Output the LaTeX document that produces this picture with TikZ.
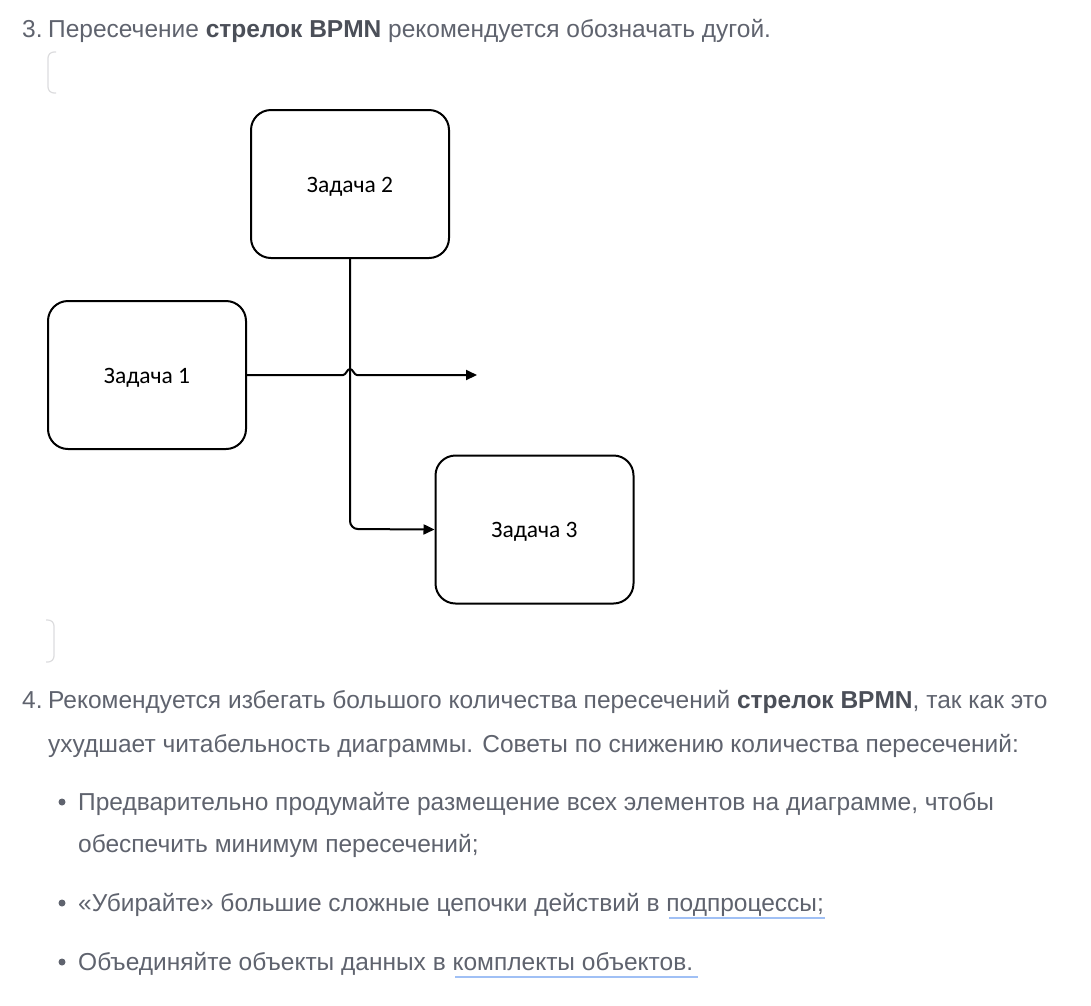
\documentclass[tikz,border=0pt]{standalone}
\usepackage{fontspec}
\setmainfont{Liberation Sans}
\newfontfamily\boxfont{Carlito}
\usetikzlibrary{arrows.meta}
\definecolor{txt}{RGB}{95,99,110}
\definecolor{txtb}{RGB}{75,79,88}
\definecolor{ulink}{RGB}{160,192,245}
\definecolor{brk}{RGB}{220,220,222}
\tikzset{
  para/.style={anchor=base west, inner sep=0pt, text=txt, font=\fontsize{24.5}{28}\selectfont},
  taskbox/.style={draw=black, line width=2pt, rounded corners=20pt, minimum width=198pt, minimum height=148pt, inner sep=0pt, text height=16pt, text depth=0pt, font=\boxfont\fontsize{23.5}{26}\selectfont},
  flow/.style={draw=black, line width=2pt, -{Triangle[length=11pt,width=10pt]}},
  bracket/.style={draw=brk, line width=1.2pt, rounded corners=6pt},
  ul/.style={draw=ulink, line width=2.2pt},
}
\begin{document}
\begin{tikzpicture}[x=1pt,y=-1pt]
\useasboundingbox (0,0) rectangle (1091,1005);
% item 3
\node[para] (n3) at (22,37) {3.};
\node[para] (t3) at (48,37) {Пересечение \textcolor{txtb}{\textbf{стрелок BPMN}} рекомендуется обозначать дугой.};
% brackets
\draw[bracket] (56,52) -- (48,52) -- (48,93) -- (56,93);
\draw[bracket] (46,620) -- (54,620) -- (54,662) -- (46,662);
% tasks
\node[taskbox] (z2) at (350,184) {Задача 2};
\node[taskbox] (z1) at (147,375) {Задача 1};
\node[taskbox] (z3) at (534.5,529.5) {Задача 3};
\coordinate (end1) at (477,375);
\coordinate (hopL) at (343,375);
\coordinate (hopR) at (357,375);
\draw[flow] (z1.east) -- (hopL) .. controls (346,375) and (347,369) .. (350,369) .. controls (353,369) and (354,375) .. (hopR) -- (end1);
\draw[flow, rounded corners=8pt] (z2.south) -- (350,529) -- (z3.west);
% item 4
\node[para] (n4) at (22,708) {4.};
\node[para] (t4a) at (48,708) {Рекомендуется избегать большого количества пересечений \textcolor{txtb}{\textbf{стрелок BPMN}}, так как это};
\node[para] (t4b) at (48,752) {ухудшает читабельность диаграммы. Советы по снижению количества пересечений:};
% bullets
\fill[txt] (62,802) circle (3.5pt);
\node[para] (b1a) at (78,810) {Предварительно продумайте размещение всех элементов на диаграмме, чтобы};
\node[para] (b1b) at (78,852) {обеспечить минимум пересечений;};
\fill[txt] (62,903) circle (3.5pt);
\node[para] (b2) at (78,911) {«Убирайте» большие сложные цепочки действий в подпроцессы;};
\fill[txt] (62,962) circle (3.5pt);
\node[para] (b3) at (78,970) {Объединяйте объекты данных в комплекты объектов.};
% underlines
\draw[ul] (669,918) -- (825,918);
\draw[ul] (455,977) -- (698,977);
\end{tikzpicture}
\end{document}
